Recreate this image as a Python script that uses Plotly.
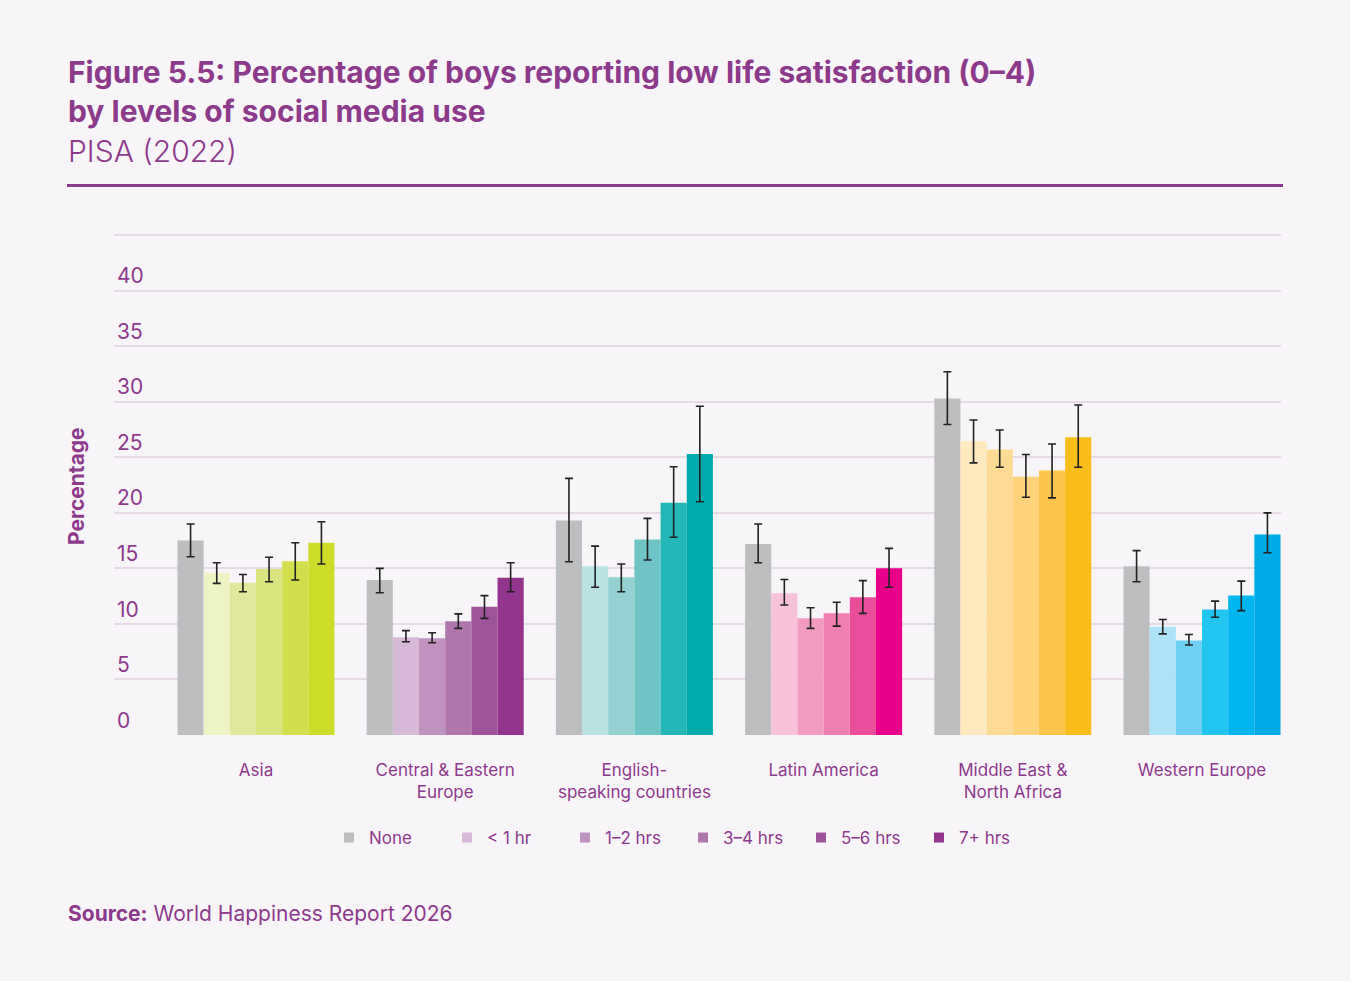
import plotly.graph_objects as go

regions = ["Asia", "Central & Eastern<br>Europe", "English-<br>speaking countries",
           "Latin America", "Middle East &<br>North Africa", "Western Europe"]
levels = ["None", "< 1 hr", "1–2 hrs", "3–4 hrs", "5–6 hrs", "7+ hrs"]

none = [17.5, 13.95, 19.3, 17.2, 30.3, 15.2]
none_hi = [19.0, 15.0, 23.1, 19.0, 32.7, 16.6]
none_lo = [16.05, 12.8, 15.6, 15.5, 27.95, 13.8]

lt1 = [14.6, 8.8, 15.2, 12.75, 26.45, 9.75]
lt1_hi = [15.5, 9.4, 17.0, 14.0, 28.35, 10.4]
lt1_lo = [13.65, 8.4, 13.3, 11.7, 24.5, 9.1]

h12 = [13.7, 8.7, 14.2, 10.5, 25.7, 8.5]
h12_hi = [14.45, 9.2, 15.4, 11.45, 27.45, 9.05]
h12_lo = [12.9, 8.3, 12.9, 9.6, 24.1, 8.1]

h34 = [14.95, 10.25, 17.6, 10.95, 23.25, 11.3]
h34_hi = [16.0, 10.9, 19.5, 11.95, 25.25, 12.05]
h34_lo = [13.8, 9.6, 15.75, 9.8, 21.4, 10.6]

h56 = [15.65, 11.55, 20.9, 12.4, 23.8, 12.55]
h56_hi = [17.3, 12.55, 24.15, 13.9, 26.2, 13.85]
h56_lo = [13.95, 10.5, 17.8, 10.95, 21.35, 11.2]

h7 = [17.3, 14.15, 25.3, 15.0, 26.8, 18.05]
h7_hi = [19.2, 15.5, 29.6, 16.8, 29.7, 20.0]
h7_lo = [15.4, 12.9, 21.0, 13.3, 24.1, 16.4]

y_ticks = [0, 5, 10, 15, 20, 25, 30, 35, 40, 45]
y_ticktext = ["0", "5", "10", "15", "20", "25", "30", "35", "40", ""]

series = [
    (none, none_hi, none_lo),
    (lt1, lt1_hi, lt1_lo),
    (h12, h12_hi, h12_lo),
    (h34, h34_hi, h34_lo),
    (h56, h56_hi, h56_lo),
    (h7, h7_hi, h7_lo),
]

GRAY = "#bdbec0"
# colours per level (rows) per region (columns)
palette = [
    [GRAY] * 6,
    ["#edf3c5", "#d6bad7", "#bae2e3", "#f6c1d9", "#ffe9bf", "#ade2f8"],
    ["#e1e89c", "#c092c0", "#95d1d1", "#f29cc2", "#fedb95", "#6fd0f5"],
    ["#dae47f", "#b077ae", "#6fc5c5", "#ef80b1", "#fdd27a", "#22c4f0"],
    ["#d3de4c", "#9e5499", "#23b7b7", "#ea4d99", "#fdc54b", "#00b6ee"],
    ["#cddc29", "#93358d", "#00aaad", "#e8008a", "#f9bd19", "#00aae6"],
]
legend_colors = [GRAY, "#d6bad7", "#c092c0", "#b077ae", "#9e5499", "#93358d"]

PURPLE = "#8e3a8c"
FONT = "Inter"
BG = "#f8f5f9"

W, H = 1350, 981
Y_MAX = 45.1
L, R, B = 114, 69, 246
PH = 11.111 * Y_MAX
T = H - B - PH
PW = W - L - R


def px(x):
    return (x - L) / PW


def py(y):
    return (H - B - y) / PH


fig = go.Figure()
xs = list(range(len(regions)))
for i, (vals, hi, lo) in enumerate(series):
    fig.add_trace(go.Bar(
        x=xs, y=vals, name=levels[i], showlegend=False,
        marker=dict(color=palette[i], line=dict(width=0)),
        error_y=dict(type="data", symmetric=False,
                     array=[h - v for h, v in zip(hi, vals)],
                     arrayminus=[v - l for v, l in zip(vals, lo)],
                     color="#222222", thickness=1.6, width=4),
        hoverinfo="y",
    ))

for i, name in enumerate(levels):
    fig.add_trace(go.Scatter(
        x=[None], y=[None], mode="markers", name=name,
        marker=dict(symbol="square", size=10, color=legend_colors[i]),
        showlegend=True,
    ))

fig.update_layout(
    width=W, height=H,
    margin=dict(l=L, r=R, t=T, b=B, pad=0),
    paper_bgcolor=BG, plot_bgcolor=BG,
    barmode="group", bargap=0.17, bargroupgap=0,
    font=dict(family=FONT, color=PURPLE, size=17),
    legend=dict(orientation="h", x=px(329), xanchor="left",
                y=py(838), yanchor="middle",
                font=dict(size=17, color=PURPLE),
                entrywidth=73, entrywidthmode="pixels",
                itemwidth=30, bgcolor="rgba(0,0,0,0)",
                itemclick=False, itemdoubleclick=False),
    xaxis=dict(range=[-0.7505, 5.4175], tickvals=xs, ticktext=regions,
               showgrid=False, zeroline=False, showline=False, ticks="",
               tickfont=dict(size=17, color=PURPLE), ticklabelstandoff=23,
               fixedrange=True),
    yaxis=dict(range=[0, Y_MAX], tickvals=y_ticks, ticktext=y_ticktext,
               showgrid=True, gridcolor="#e7dae7", gridwidth=2,
               zeroline=False, showline=False, ticks="",
               ticklabelposition="inside top",
               tickfont=dict(size=21, color=PURPLE),
               fixedrange=True),
    showlegend=True,
)

annotations = [
    dict(x=px(66), y=py(91.5), xref="paper", yref="paper", xanchor="left", yanchor="middle",
         text="<b>Figure 5.5: Percentage of boys reporting low life satisfaction (0–4)<br>by levels of social media use</b>",
         align="left", showarrow=False,
         font=dict(family=FONT, size=30, color=PURPLE)),
    dict(x=px(66), y=py(151), xref="paper", yref="paper", xanchor="left", yanchor="middle",
         text="PISA (2022)", showarrow=False,
         font=dict(family=FONT, size=30, color=PURPLE, weight=300)),
    dict(x=px(76), y=py(486), xref="paper", yref="paper", xanchor="center", yanchor="middle",
         text="<b>Percentage</b>", textangle=-90, showarrow=False,
         font=dict(family=FONT, size=21, color=PURPLE)),
    dict(x=px(66), y=py(914), xref="paper", yref="paper", xanchor="left", yanchor="middle",
         text="<b>Source:</b> World Happiness Report 2026", showarrow=False,
         font=dict(family=FONT, size=21, color=PURPLE)),
]
fig.update_layout(annotations=annotations)

fig.add_shape(type="line", xref="paper", yref="paper",
              x0=px(67), x1=px(1283), y0=py(185.5), y1=py(185.5),
              line=dict(color=PURPLE, width=3))

fig.write_html("out.html", config={"displayModeBar": False},
               post_script="document.body.style.margin='0px';")
